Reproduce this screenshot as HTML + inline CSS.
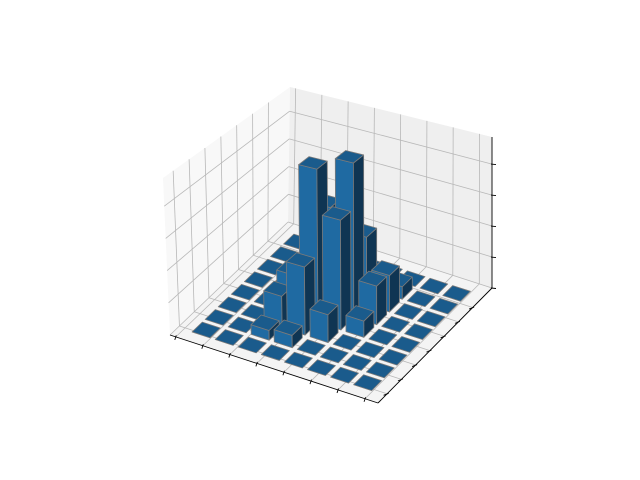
<!DOCTYPE html>
<html><head><meta charset="utf-8"><style>
html,body{margin:0;padding:0;background:#fff;}
svg{display:block;font-family:"Liberation Sans",sans-serif;}
</style></head><body>
<svg id="chart" width="640" height="480" viewBox="0 0 640 480" xmlns="http://www.w3.org/2000/svg">
<g id="panes"></g>
<g id="grid"></g>
<g id="axes"></g>
<g id="bars"></g>
</svg>
<script>
// ---- data ----
const xCats = [0,1,2,3,4,5,6,7];
const yCats = [0,1,2,3,4,5,6,7];
// heights[row r][col c]
const heights = [
 [0,0,0,0,0,0,0,0],
 [0,0,0.6,0.75,0,0,0,0],
 [0,0,1.95,4.2,1.7,0,0,0],
 [0,0,2.5,9.6,6.8,1.0,0,0],
 [0,0,0,6.5,9.7,2.4,0,0],
 [0,0,0,0,4.3,2.3,0,0],
 [0,0,0,0,0,0.8,0,0],
 [0,0,0,0,0,0,0,0]
];
const xTicks = [-0.75,0.42,1.59,2.76,3.93,5.1,6.27,7.44];
const yTicks = [-0.28,0.85,1.97,3.1,4.22,5.35,6.47];
const zTicks = [0,2,4,6,8];
const xLim = [-1,8], yLim = [-1,8], zLim = [0,9.75];

// ---- projection (bilinear box) ----
const F=[378,403],L=[170,335],R=[492,288],K=[288,222];
const Ft=[380,231],Lt=[163,178],Rt=[492,137],Kt=[290,87];
function bil(a,b,c,d,u,v){return [a[0]*(1-u)*(1-v)+b[0]*u*(1-v)+c[0]*(1-u)*v+d[0]*u*v, a[1]*(1-u)*(1-v)+b[1]*u*(1-v)+c[1]*(1-u)*v+d[1]*u*v];}
function xu(x){return (xLim[1]-x)/(xLim[1]-xLim[0]);}
function yv(y){return (y-yLim[0])/(yLim[1]-yLim[0]);}
function zw(z){return (z-zLim[0])/(zLim[1]-zLim[0]);}
function P(u,v,w){const f=bil(F,L,R,K,u,v),t=bil(Ft,Lt,Rt,Kt,u,v);return [f[0]+(t[0]-f[0])*w,f[1]+(t[1]-f[1])*w];}
const NS='http://www.w3.org/2000/svg';
function poly(g,pts,fill,stroke,sw){const e=document.createElementNS(NS,'polygon');e.setAttribute('points',pts.map(p=>p[0].toFixed(2)+','+p[1].toFixed(2)).join(' '));e.setAttribute('fill',fill);if(stroke){e.setAttribute('stroke',stroke);e.setAttribute('stroke-width',sw);e.setAttribute('stroke-linejoin','round');}g.appendChild(e);return e;}
function line(g,a,b,col,sw){const e=document.createElementNS(NS,'line');e.setAttribute('x1',a[0]);e.setAttribute('y1',a[1]);e.setAttribute('x2',b[0]);e.setAttribute('y2',b[1]);e.setAttribute('stroke',col);e.setAttribute('stroke-width',sw);g.appendChild(e);return e;}

// panes
const panes=document.getElementById('panes');
let pe=poly(panes,[P(0,0,0),P(1,0,0),P(1,1,0),P(0,1,0)],'#f4f4f4');


pe=poly(panes,[P(1,0,0),P(1,1,0),P(1,1,1),P(1,0,1)],'#f8f8f8');


pe=poly(panes,[P(1,1,0),P(0,1,0),P(0,1,1),P(1,1,1)],'#efefef');



// grid
const grid=document.getElementById('grid');
const gc='#b8b8b8', gw=0.8;
xTicks.forEach(t=>{const u=xu(t);
 let e=line(grid,P(u,0,0),P(u,1,0),gc,gw);
 
 
 e=line(grid,P(u,1,0),P(u,1,1),gc,gw);
 
 });
yTicks.forEach(t=>{const v=yv(t);
 let e=line(grid,P(0,v,0),P(1,v,0),gc,gw);
 
 
 e=line(grid,P(1,v,0),P(1,v,1),gc,gw);
 
 });
zTicks.forEach(t=>{const w=zw(t);
 let e=line(grid,P(1,0,w),P(1,1,w),gc,gw);
 
 
 e=line(grid,P(1,1,w),P(0,1,w),gc,gw);
 
 });

// axes
const axes=document.getElementById('axes');
let ax=line(axes,P(1,0,0),P(0,0,0),'#000',0.9);


ax=line(axes,P(0,0,0),P(0,1,0),'#000',0.9);


ax=line(axes,P(0,1,0),P(0,1,1),'#000',0.9);


xTicks.forEach(t=>{const p=P(xu(t),0,0);
 const e=line(axes,[p[0]+0.5,p[1]-1.5],[p[0]-1,p[1]+3],'#000',0.9);
 
 });
yTicks.forEach(t=>{const p=P(0,yv(t),0);
 const e=line(axes,[p[0]+1.5,p[1]-0.5],[p[0]-3.5,p[1]+1.5],'#000',0.9);
 
 });
zTicks.forEach(t=>{const p=P(0,1,zw(t));
 const e=line(axes,[p[0]-1,p[1]],[p[0]+4,p[1]+0.5],'#000',0.9);
 
 });

// bars
const barsG=document.getElementById('bars');
const half=0.39;
const list=[];
yCats.forEach((yc,r)=>xCats.forEach((xc,c)=>{list.push({x:xc,y:yc,h:heights[r][c]});}));
list.forEach(b=>{b.depth=0.5*xu(b.x)+0.866*yv(b.y);});
list.sort((a,b)=>b.depth-a.depth);
const EC='#7a7a7a',EW=0.8;
list.forEach(b=>{
 const u0=xu(b.x+half),u1=xu(b.x-half),v0=yv(b.y-half),v1=yv(b.y+half),w=zw(b.h);
 const g=document.createElementNS(NS,'g');
 
 
 if(b.h>0){
  poly(g,[P(u0,v0,0),P(u1,v0,0),P(u1,v0,w),P(u0,v0,w)],'#1f6aa2',EC,EW);
  poly(g,[P(u0,v0,0),P(u0,v1,0),P(u0,v1,w),P(u0,v0,w)],'#0f3553',EC,EW);
 }
 poly(g,[P(u0,v0,w),P(u1,v0,w),P(u1,v1,w),P(u0,v1,w)],'#1a5b8c',EC,EW);
 barsG.appendChild(g);
});
</script>
</body></html>
